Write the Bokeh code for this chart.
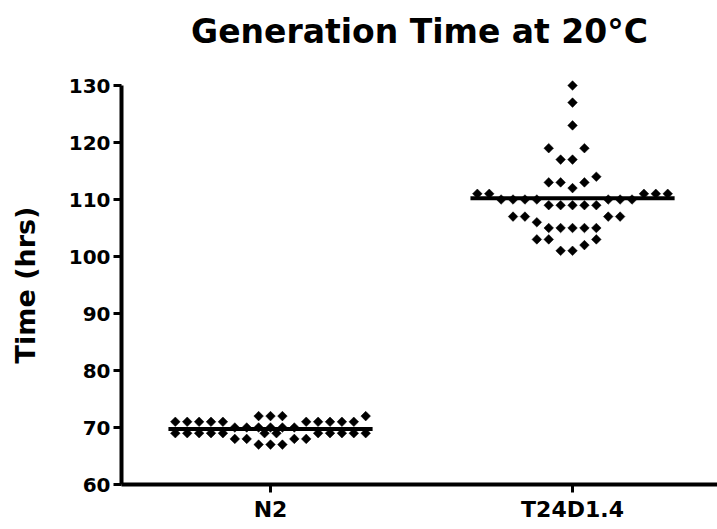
import math
from bokeh.plotting import figure
from bokeh.models import Range1d, FixedTicker, Title
from bokeh.embed import file_html
from bokeh.resources import INLINE

# ---------------- data ----------------
title_text = "Generation Time at 20°C"
y_label = "Time (hrs)"
categories = ["N2", "T24D1.4"]
y_ticks = [60, 70, 80, 90, 100, 110, 120, 130]

n2_values = [72, 72, 72, 72,
             71, 71, 71, 71, 71, 71, 71, 71, 71, 71,
             70, 70, 70, 70, 70, 70,
             69, 69, 69, 69, 69, 69, 69, 69, 69, 69, 69, 69,
             68, 68, 68, 68,
             67, 67, 67]

t24_values = [130, 127, 123, 119, 119, 117, 117, 114,
              113, 113, 113, 112,
              111, 111, 111, 111, 111,
              110, 110, 110, 110, 110, 110, 110,
              109, 109, 109, 109, 109,
              107, 107, 107, 107, 106,
              105, 105, 105, 105, 105,
              103, 103, 103, 102, 101, 101]

groups = [n2_values, t24_values]

# ---------------- column-scatter layout (Prism style) ----------------
SLOT = 0.0394          # horizontal spacing of points, in category units
BAND = 2.0             # values within this span share one row band
SLOT_ORDER = [0] + [s for k in range(1, 9) for s in (-k, k)]


def column_layout(values, center):
    vals = sorted(values)
    xs, ys = [], []
    i = 0
    while i < len(vals):
        start = vals[i]
        j = i
        while j < len(vals) and vals[j] <= start + BAND:
            j += 1
        grp = vals[i:j]
        first = grp[:len(SLOT_ORDER)]
        rest = grp[len(SLOT_ORDER):]
        for v, s in zip(first, SLOT_ORDER):
            xs.append(center + s * SLOT)
            ys.append(v)
        for k, v in enumerate(rest):
            xs.append(center + (k - (len(rest) - 1) / 2) * SLOT)
            ys.append(v)
        i = j
    return xs, ys


FONT = "DejaVu Sans"

p = figure(width=717, height=529, output_backend="svg", toolbar_location=None,
           x_range=Range1d(-0.4934, 1.480), y_range=Range1d(60, 130),
           min_border_left=121, min_border_right=0, min_border_top=85,
           min_border_bottom=45)
p.outline_line_color = None
p.grid.visible = False
p.background_fill_color = "white"
p.border_fill_color = "white"

# empty spacer between the frame and the title
spacer = Title(text=" ", text_font_size="22px", standoff=8)
p.add_layout(spacer, "above")

p.title.text = title_text
p.title.text_font = FONT
p.title.text_font_size = "33px"
p.title.text_font_style = "bold"
p.title.align = "center"
p.title.standoff = 0
p.title.text_color = "black"

for ax in (p.xaxis[0], p.yaxis[0]):
    ax.axis_line_width = 4
    ax.axis_line_color = "black"
    ax.major_tick_line_width = 3
    ax.major_tick_line_color = "black"
    ax.major_tick_out = 8
    ax.major_tick_in = 0
    ax.minor_tick_line_color = None
    ax.major_label_text_font = FONT
    ax.major_label_text_font_style = "bold"
    ax.major_label_text_color = "black"

p.xaxis.ticker = FixedTicker(ticks=list(range(len(categories))))
p.xaxis.major_label_overrides = {i: c for i, c in enumerate(categories)}
p.xaxis.major_label_text_font_size = "22px"
p.xaxis.major_label_standoff = 4

p.yaxis.ticker = FixedTicker(ticks=y_ticks)
p.yaxis.major_label_text_font_size = "20px"
p.yaxis.major_label_standoff = 3
p.yaxis.axis_label = y_label
p.yaxis.axis_label_text_font = FONT
p.yaxis.axis_label_text_font_size = "27px"
p.yaxis.axis_label_text_font_style = "bold"
p.yaxis.axis_label_text_color = "black"
p.yaxis.axis_label_standoff = 25

HALF = 0.338
for ci, vals in enumerate(groups):
    xs, ys = column_layout(vals, ci)
    mean = sum(vals) / len(vals)
    p.segment(x0=[ci - HALF], x1=[ci + HALF], y0=[mean], y1=[mean],
              line_width=4, line_color="black")
    r = p.scatter(xs, ys, marker="square", size=6.8, angle=math.pi / 4,
                  fill_color="black", line_color="black", line_width=0.5)
    r.level = "overlay"

open("out.html", "w").write(file_html(p, INLINE))
